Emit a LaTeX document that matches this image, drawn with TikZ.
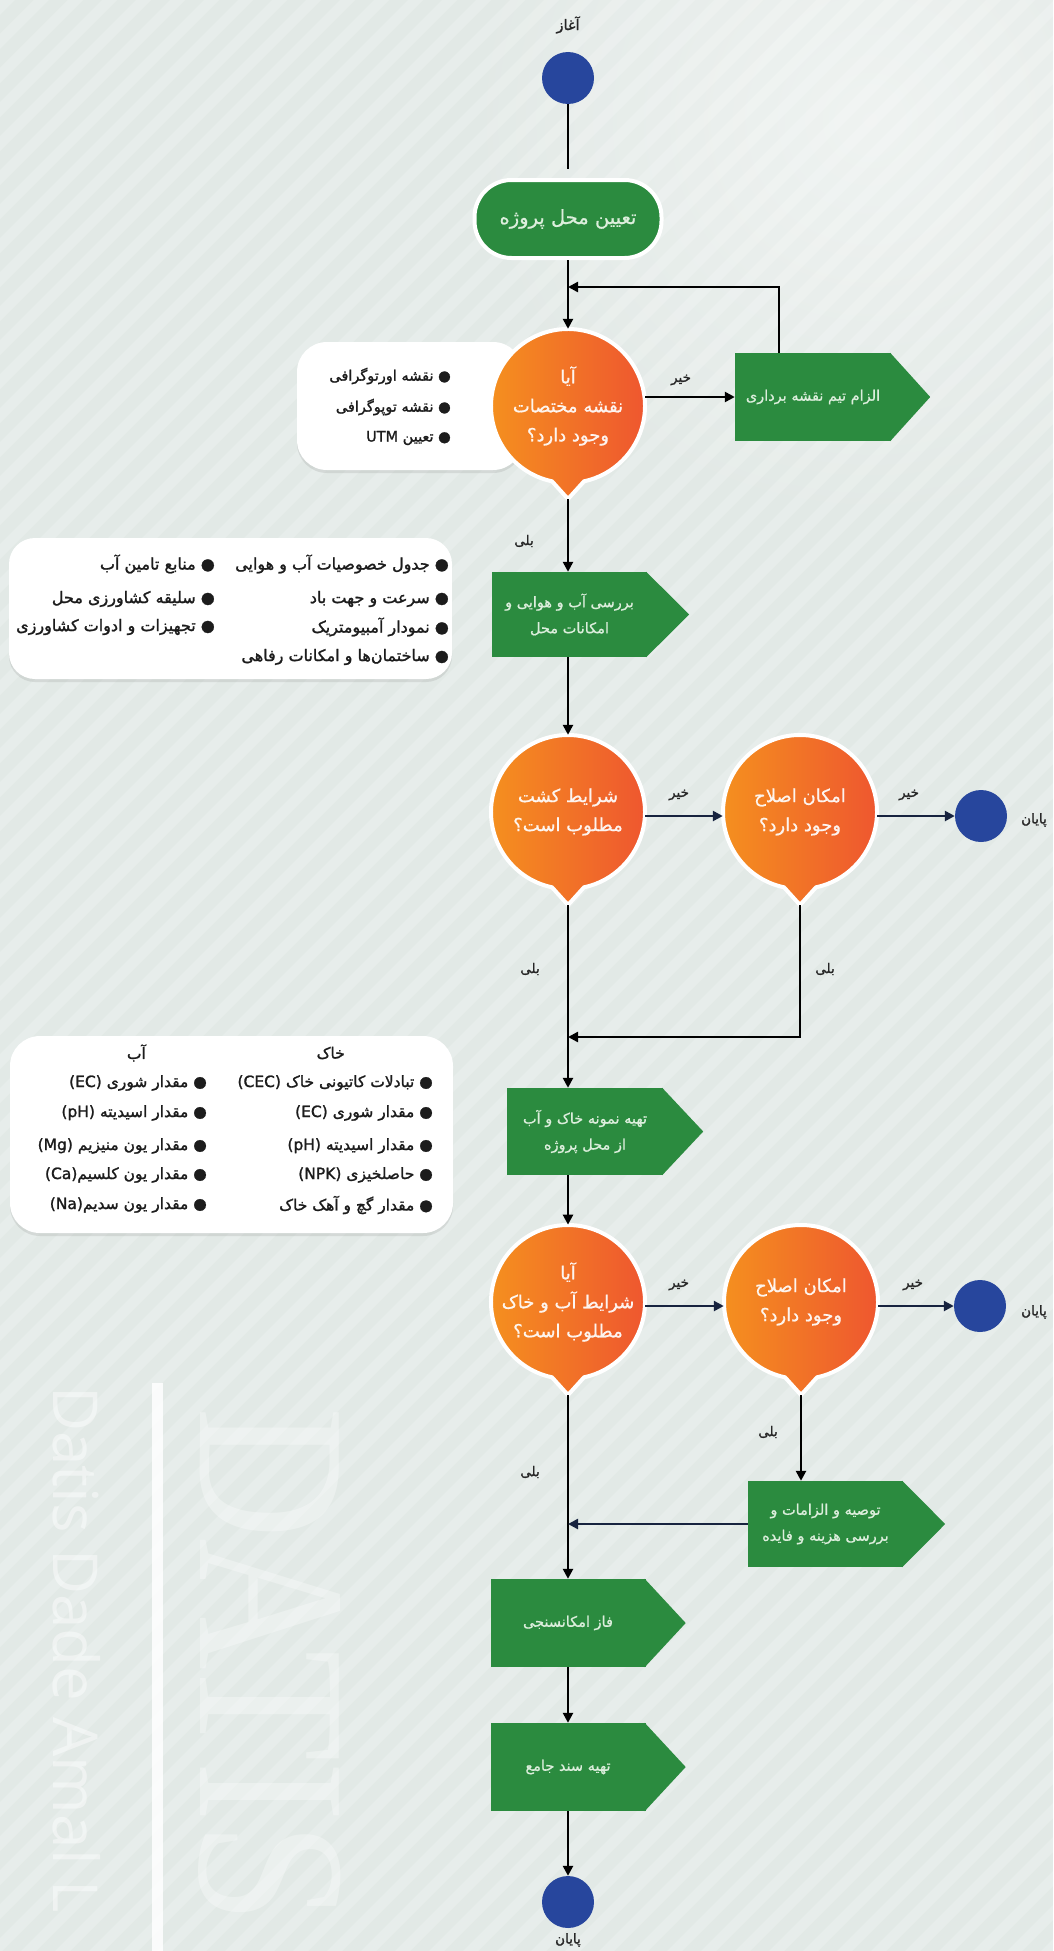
\documentclass[tikz,border=0pt]{standalone}
\usepackage{fontspec}
\usetikzlibrary{arrows.meta,shadows,calc}
\TeXXeTstate=1
\newfontfamily\arabicfont[Script=Arabic,FakeBold=0.8]{DejaVu Sans}
\newfontfamily\arabicfontb[Script=Arabic,FakeBold=1.4]{DejaVu Sans}
\newfontfamily\wmserif{Liberation Serif}
\newfontfamily\wmsans{Open Sans}
\newcommand\fa[1]{\beginR #1\endR}
\newcommand\la[1]{\beginL #1\endL}
\definecolor{bgc}{HTML}{E2E9E6}
\definecolor{gboxc}{HTML}{2B8B3F}
\definecolor{orgA}{HTML}{F5921E}
\definecolor{orgB}{HTML}{EE5430}
\definecolor{bluc}{HTML}{27469D}
\definecolor{navyc}{HTML}{17233F}
\definecolor{gtextc}{HTML}{DCEEDC}
\definecolor{lblc}{HTML}{262626}
\definecolor{notec}{HTML}{1C1C1C}
\newcommand\decision[3]{%
  \coordinate (#1c) at (#2);
  \path[decfill] ($(#1c)+(102:77)$) arc[start angle=102,end angle=438,radius=77] -- ($(#1c)+(0,93)$) -- cycle;
  \node[dectxt] (#1) at (#1c) {#3};
  \coordinate (#1t) at ($(#1c)+(0,93)$);}
\begin{document}
\begin{tikzpicture}[x=1pt,y=-1pt,
  every node/.style={inner sep=0pt},
  arr/.style={line width=2.4pt, draw=black, -{Triangle[length=10pt,width=10pt]}},
  narr/.style={arr, draw=navyc},
  ln/.style={line width=2.4pt, draw=black},
  endpt/.style={circle, fill=bluc, minimum size=52pt},
  termbox/.style={draw=white, line width=4pt, fill=gboxc, rounded corners=37pt, minimum width=187pt, minimum height=78pt, text=gtextc, font=\arabicfont\fontsize{19.5}{22}\selectfont},
  greenbox/.style={fill=gboxc, minimum width=155pt, minimum height=87pt, text=gtextc, align=center, font=\arabicfont\fontsize{14.5}{26}\selectfont},
  decfill/.style={draw=white, line width=4pt, left color=orgA, right color=orgB},
  dectxt/.style={circle, minimum size=154pt, align=center, text=white, text opacity=0.92, font=\arabicfont\fontsize{18}{29}\selectfont},
  notebox/.style={fill=white, rounded corners=30pt, drop shadow={opacity=0.18, shadow xshift=0pt, shadow yshift=-3pt}},
  notetxt/.style={anchor=east, text=notec, font=\arabicfontb\fontsize{16}{18}\selectfont},
  notesm/.style={notetxt, font=\arabicfontb\fontsize{14.5}{17}\selectfont},
  notemd/.style={notetxt, font=\arabicfontb\fontsize{15.5}{17}\selectfont},
  lab/.style={text=lblc, font=\arabicfontb\fontsize{13.5}{15}\selectfont},
]
\useasboundingbox (0,0) rectangle (1053,1951);
\fill[bgc] (0,0) rectangle (1053,1951);
\begin{scope}
  \clip (0,0) rectangle (1053,1951);
  \shade[inner color=white, outer color=bgc, opacity=0.45] (870,120) circle[radius=420];
  \foreach \i in {0,...,90}
    \fill[white, opacity=0.2] ({\i*34},0) -- ({\i*34+15},0) -- ({\i*34+15-1951},1951) -- ({\i*34-1951},1951) -- cycle;
  % watermark
  \fill[white, opacity=0.85] (152,1383) rectangle (163,1951);
  \node[rotate=-90, xscale=0.86, anchor=base west, text=white, text opacity=0.32, font=\wmserif\fontsize{212}{212}\selectfont] (wm1) at (200,1407) {DATIS};
  \node[rotate=-90, anchor=base west, text=white, text opacity=0.45, font=\wmsans\fontsize{62}{62}\selectfont] (wm2) at (53,1386) {Datis Dade Amal L};
\end{scope}

% start and first task
\node[endpt] (s) at (568,78) {};
\node[lab, font=\arabicfontb\fontsize{14.5}{16}\selectfont] (ls) at (568,25) {\fa{آغاز}};
\node[termbox] (t) at (568,219) {\fa{تعیین محل پروژه}};

% note 1
\node[notebox, minimum width=226pt, minimum height=128pt] (n1) at (410,406) {};
\node[notesm] (n1a) at (451,376) {\fa{● نقشه اورتوگرافی}};
\node[notesm] (n1b) at (451,407) {\fa{● نقشه توپوگرافی}};
\node[notesm] (n1c) at (451,438) {\fa{● تعیین \la{UTM}}};

% decision 1
\decision{d1}{568,406}{\fa{آیا}\\\fa{نقشه مختصات}\\\fa{وجود دارد؟}}

% green boxes
\node[greenbox, minimum width=156pt, minimum height=88pt] (b1) at (813,397) {\fa{الزام تیم نقشه برداری}};
\node[greenbox, minimum height=85pt] (b2) at (569.5,614.5) {\fa{بررسی آب و هوایی و}\\\fa{امکانات محل}};
\node[greenbox, minimum width=156pt] (b3) at (585,1131.5) {\fa{تهیه نمونه خاک و آب}\\\fa{از محل پروژه}};
\node[greenbox, minimum height=86pt] (b4) at (825.5,1524) {\fa{توصیه و الزامات و}\\\fa{بررسی هزینه و فایده}};
\node[greenbox, minimum height=88pt] (b5) at (568,1623) {\fa{فاز امکانسنجی}};
\node[greenbox, minimum height=88pt] (b6) at (568,1767) {\fa{تهیه سند جامع}};
\foreach \n/\p in {b1/39,b2/42,b3/40,b4/42,b5/40,b6/40}
  \fill[gboxc] ([xshift=-1pt]\n.north east) -- ([xshift=\p pt]\n.east) -- ([xshift=-1pt]\n.south east) -- cycle;

% note 2
\node[notebox, minimum width=443pt, minimum height=141pt, rounded corners=26pt] (n2) at (230.5,608.5) {};
\node[notetxt] (n2a) at (449,564) {\fa{● جدول خصوصیات آب و هوایی}};
\node[notetxt] (n2b) at (449,599) {\fa{● سرعت و جهت باد}};
\node[notetxt] (n2c) at (449,627) {\fa{● نمودار آمبیومتریک}};
\node[notetxt] (n2d) at (449,657) {\fa{● ساختمان‌ها و امکانات رفاهی}};
\node[notetxt] (n2e) at (215,564) {\fa{● منابع تامین آب}};
\node[notetxt] (n2f) at (215,599) {\fa{● سلیقه کشاورزی محل}};
\node[notetxt] (n2g) at (215,627) {\fa{● تجهیزات و ادوات کشاورزی}};

% decisions row 2
\decision{d2a}{568,812}{\fa{شرایط کشت}\\\fa{مطلوب است؟}}
\decision{d2b}{800,812}{\fa{امکان اصلاح}\\\fa{وجود دارد؟}}
\node[endpt] (e1) at (981,816) {};
\node[lab] (le1) at (1034,820) {\fa{پایان}};

% note 3
\node[notebox, minimum width=443pt, minimum height=197pt] (n3) at (231.5,1134.5) {};
\node[notemd] (n3h1) at (345,1053) {\fa{خاک}};
\node[notemd] (n3h2) at (146,1053) {\fa{آب}};
\node[notemd] (n3a) at (433,1083) {\fa{● تبادلات کاتیونی خاک \la{(CEC)}}};
\node[notemd] (n3b) at (433,1113) {\fa{● مقدار شوری \la{(EC)}}};
\node[notemd] (n3c) at (433,1146) {\fa{● مقدار اسیدیته \la{(pH)}}};
\node[notemd] (n3d) at (433,1175) {\fa{● حاصلخیزی \la{(NPK)}}};
\node[notemd] (n3e) at (433,1205) {\fa{● مقدار گچ و آهک خاک}};
\node[notemd] (n3f) at (207,1083) {\fa{● مقدار شوری \la{(EC)}}};
\node[notemd] (n3g) at (207,1113) {\fa{● مقدار اسیدیته \la{(pH)}}};
\node[notemd] (n3i) at (207,1146) {\fa{● مقدار یون منیزیم \la{(Mg)}}};
\node[notemd] (n3j) at (207,1175) {\fa{● مقدار یون کلسیم\la{(Ca)}}};
\node[notemd] (n3k) at (207,1205) {\fa{● مقدار یون سدیم\la{(Na)}}};

% decisions row 3
\decision{d3a}{568,1302}{\fa{آیا}\\\fa{شرایط آب و خاک}\\\fa{مطلوب است؟}}
\decision{d3b}{801,1302}{\fa{امکان اصلاح}\\\fa{وجود دارد؟}}
\node[endpt] (e2) at (980,1306) {};
\node[lab] (le2) at (1034,1312) {\fa{پایان}};

% final end
\node[endpt] (e3) at (568,1902) {};
\node[lab] (le3) at (568,1940) {\fa{پایان}};

% junctions
\coordinate (j1) at (568,287);
\coordinate (j2) at (568,1037);

% connectors
\draw[ln, shorten >=9pt] (s) -- (t);
\draw[arr] (t) -- (d1);
\draw[arr] ([xshift=-34pt]b1.north) |- (j1);
\draw[arr] (d1.east |- b1.west) -- (b1.west);
\draw[arr] (d1t) -- (d1t |- b2.north);
\draw[arr] (d2a.north |- b2.south) -- (d2a.north);
\draw[narr] (d2a.east |- e1) -- (d2b.west |- e1);
\draw[narr] (d2b.east |- e1) -- (e1);
\draw[arr] (d2at) -- (d2at |- b3.north);
\draw[arr] (d2bt) |- (j2);
\draw[arr] (d3a.north |- b3.south) -- (d3a.north);
\draw[narr] (d3a.east |- e2) -- (d3b.west |- e2);
\draw[narr] (d3b.east |- e2) -- (e2);
\draw[arr] (d3at) -- (d3at |- b5.north);
\draw[arr] (d3bt) -- (d3bt |- b4.north);
\draw[narr] (b4.west) -- (b4.west -| d3at);
\draw[arr] (b5.south) -- (b6.north);
\draw[arr] (b6.south) -- (e3);

% connector labels
\node[lab] (k1) at (681,380) {\fa{خیر}};
\node[lab] (k2) at (524,541) {\fa{بلی}};
\node[lab] (k3) at (679,795) {\fa{خیر}};
\node[lab] (k4) at (909,795) {\fa{خیر}};
\node[lab] (k5) at (530,969) {\fa{بلی}};
\node[lab] (k6) at (825,969) {\fa{بلی}};
\node[lab] (k7) at (679,1285) {\fa{خیر}};
\node[lab] (k8) at (913,1285) {\fa{خیر}};
\node[lab] (k9) at (768,1432) {\fa{بلی}};
\node[lab] (k10) at (530,1472) {\fa{بلی}};
\end{tikzpicture}
\end{document}
